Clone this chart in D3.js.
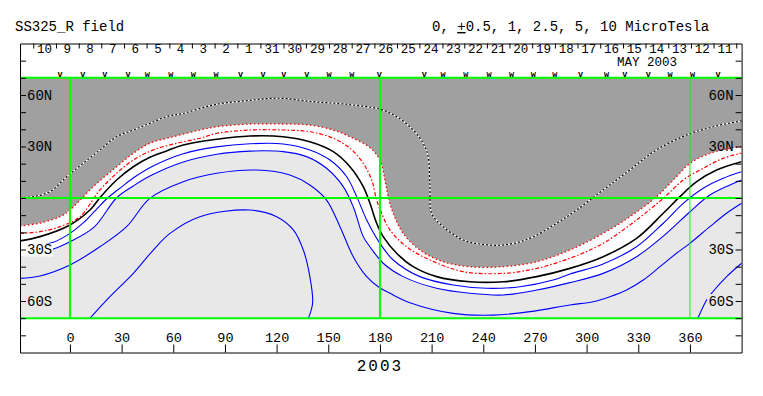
<!DOCTYPE html>
<html>
<head>
<meta charset="utf-8">
<script src="https://cdn.jsdelivr.net/npm/d3@7"></script>
<style>
  body { margin: 0; background: #fff; }
  svg { display: block; }
  text { font-family: "Liberation Mono", "DejaVu Sans Mono", monospace; fill: #000; }
</style>
</head>
<body>
<svg id="chart"></svg>
<script>
// ---- data: contour lines as [Carrington lon, lat] ----
const pos25 = [[-29,0.2],[-21.3,0.8],[-11.6,3.7],[-1.9,12.4],[7.7,20.2],[17.4,28],[27.1,35.7],[36.8,39.6],[46.5,43.5],[56.1,47.4],[65.8,49.3],[83.2,54.2],[102.6,56.7],[121.9,58.1],[141.3,56.1],[160.7,54.6],[180,51.7],[189.7,47.4],[199.3,39.6],[205.1,31.9],[208,24.1],[209,6.6],[210,-8.9],[216.7,-16.7],[228.3,-24.5],[238,-26.8],[251.6,-27.4],[267.1,-23.5],[282.6,-14.7],[294.2,-7],[309.6,4.7],[325.1,16.3],[340.6,28],[358.1,36.7],[373.5,41.5],[387.1,44.4],[390,44.9]];
const pos1 = [[-29,-16.3],[-17.4,-14.6],[-5.8,-10.9],[0,-7],[13.5,6.6],[27.1,18.2],[36.8,26],[46.4,31.9],[60,35.7],[75.5,39.6],[85.2,41.5],[104.5,43.1],[123.8,43.1],[139.3,42.5],[152.9,39.6],[162.6,35.7],[174,29.5],[180,22.1],[182.9,10.5],[184.8,0.8],[187.7,-8.9],[193.5,-20.6],[203.2,-30.3],[216.7,-37.1],[232.2,-40],[251.6,-40],[271,-37.1],[290.3,-30.3],[309.6,-20.6],[325.1,-10.9],[340.6,0.8],[352.2,12.4],[360,20.2],[371.6,26],[383.2,29],[390,29.9]];
const pos05 = [[-29,-20.6],[-17.4,-19.6],[-5.8,-16.7],[5.8,-10.9],[17.4,4.7],[27.1,14.4],[36.8,22.1],[48.4,28],[62,31.9],[75.5,34.8],[85.2,37.7],[104.5,39.6],[123.8,39.6],[139.3,38.6],[152.9,34.8],[162.6,29],[170.3,20.2],[175.2,10.5],[178.1,-1.2],[181,-8.9],[185.8,-18.6],[195.5,-28.4],[209,-36.1],[228.4,-42.9],[251.6,-43.9],[271,-41],[290.3,-35.1],[309.6,-26.4],[329,-12.8],[344.5,-0.2],[356.1,10.5],[367.7,17.3],[379.3,23.1],[390,26.2]];
const zero = [[-29,-25],[-17.4,-22.5],[0,-15.7],[11.6,-7],[17.4,0.2],[27.1,10.5],[36.8,18.2],[46.4,23.7],[56.1,27.4],[65.8,30.9],[85.2,34.2],[104.5,36.1],[123.8,35.7],[139.3,32.8],[152.9,27],[162.6,18.2],[170.3,6.6],[174.2,-3.1],[178.1,-14.7],[181.9,-22.5],[189.7,-32.2],[199.3,-40],[212.9,-45.8],[232.2,-48.8],[251.6,-48.8],[271,-45.8],[290.3,-41],[309.6,-34.2],[329,-23.5],[344.5,-8.9],[354.2,0.8],[363.9,9.5],[375.5,16.3],[390,21.1]];
const neg05 = [[-29,-29.7],[-9.7,-25.8],[0,-20.6],[7.7,-14.5],[15,-7],[21.9,0],[30,6.5],[38,12.5],[48,18.5],[65.8,25.8],[85.2,29.8],[104.5,31.6],[123.8,31.5],[139.3,28],[151,22.1],[160.7,12.4],[166.5,0.8],[172.3,-12.8],[180,-26.4],[187.7,-36.1],[203.2,-45.8],[222.5,-50.7],[241.9,-52.6],[261.3,-51.7],[280.6,-47.8],[290.3,-44.3],[309.6,-38.4],[329,-28.4],[344.5,-14.7],[356.1,-3.1],[367.7,5.7],[379.3,11.5],[390,15.3]];
const neg1 = [[-29,-33.8],[-9.7,-29.7],[0,-25.5],[14,-17],[27,0],[36.8,7],[46.4,12.8],[65.8,21],[85.2,25.5],[104.5,27.3],[123.8,27],[137.4,24.1],[149,17.3],[158.7,6.6],[164.5,-5.1],[170.3,-22.5],[174.2,-28.4],[181.9,-38],[193.5,-45.8],[212.9,-52.6],[232.2,-55.5],[251.6,-56.5],[271,-53.6],[290.3,-49.3],[309.6,-43.9],[329,-34.2],[346.4,-20.6],[360,-8],[371.6,1.7],[383.2,7.6],[390,10.5]];
const neg25 = [[-29,-46.8],[-17.4,-45.4],[0,-39],[17.4,-28.4],[32.9,-16.7],[46.4,-0.2],[65.8,9.5],[85.2,14.4],[108.4,16.3],[127.7,13.4],[139.3,7.6],[149,-1.2],[156.8,-16.7],[164.5,-34.2],[172.3,-45.8],[180,-52.4],[185.8,-55.5],[197.4,-61],[222.5,-67.2],[245.8,-68.2],[267.1,-66.2],[290.3,-62.3],[303.8,-60.4],[313.5,-57.5],[323.2,-53.6],[332.9,-47.8],[342.6,-40],[352.2,-32.2],[360,-26.4],[371.6,-16.7],[381.3,-8.9],[390,-3.1]];
const neg5a = [[11.6,-70.1],[23.2,-57.5],[36.8,-43.9],[48.4,-30.3],[58.1,-20.6],[75.5,-10.9],[104.5,-7],[120,-10.9],[129.7,-18.6],[135.5,-30.3],[139.3,-45.8],[140.9,-61.3],[138.4,-70.1]];
const neg5b = [[364.6,-70.1],[369.7,-59.4],[373.3,-54.6],[381.3,-45.8],[390,-38]];

// header: day boundaries (lon), day numbers, daily markers
const dayEdges = [-21.3,-8.1,5.1,18.2,31.4,44.5,57.7,70.8,84,97.2,110.6,124,137,150.4,163.6,176.8,189.9,202.9,216.3,229,242.1,255.2,268.4,281.6,294.7,307.9,321.1,334.2,347.4,360.6,373.7,386.9];
const dayLabels = [10,9,8,7,6,5,4,3,2,1,31,30,29,28,27,26,25,24,23,22,21,20,19,18,17,16,15,14,13,12,11];
const markerLon = [-5.8,7.4,20.3,33.8,44.9,58.5,71.6,84.8,99.1,112.2,124.2,137.6,150.5,163.7,179.7,205.8,216.7,229.9,243.4,256.4,269,281.6,296.5,311.6,322.2,335.8,348.4,361.5,376.4];
const markerType = "vvvvwwwwvvvvwwvvwwwwwwvwvvwwv".split('');

// axes
const lonTicks = [0,30,60,90,120,150,180,210,240,270,300,330,360];
const latTicks = [-80,-70,-60,-50,-40,-30,-20,-10,0,10,20,30,40,50,60,70,80];
const latLabelVals = [60,30,-30,-60];
const latLabelText = ['60N','30N','30S','60S'];
const gridLon = [0,180,360];
const gridLat = [70,0,-70];

const width = 763, height = 396;
const svg = d3.select('#chart').attr('width', width).attr('height', height);

const x = d3.scaleLinear().domain([-29, 390]).range([20, 741.6]);
const y = d3.scaleLinear().domain([-90, 90]).range([352.5, 43.5]);

svg.append('defs').append('clipPath').attr('id', 'plot')
  .append('rect')
  .attr('x', x(-29)).attr('y', y(70))
  .attr('width', x(390) - x(-29)).attr('height', y(-70) - y(70));

const plot = svg.append('g').attr('clip-path', 'url(#plot)');
const curve = d3.curveCatmullRom.alpha(0.5);

// shaded regions: > +1 gray, < -1 light gray
plot.append('path')
  .attr('d', d3.area().x(d => x(d[0])).y0(y(71)).y1(d => y(d[1])).curve(curve)(pos1))
  .attr('fill', '#a0a0a0');
plot.append('path')
  .attr('d', d3.area().x(d => x(d[0])).y0(y(-71)).y1(d => y(d[1])).curve(curve)(neg1))
  .attr('fill', '#e8e8e8');

const line = d3.line().x(d => x(d[0])).y(d => y(d[1])).curve(curve);

// positive contours
plot.append('path').attr('d', line(pos25)).attr('fill', 'none')
  .attr('stroke', '#fff').attr('stroke-width', 1.2);
plot.append('path').attr('d', line(pos25)).attr('fill', 'none')
  .attr('stroke', '#000').attr('stroke-width', 1.2).attr('stroke-dasharray', '2,2');
plot.append('path').attr('d', line(pos1)).attr('fill', 'none')
  .attr('stroke', '#f00').attr('stroke-width', 1.3).attr('stroke-dasharray', '1.5,2.5');
plot.append('path').attr('d', line(pos05)).attr('fill', 'none')
  .attr('stroke', '#f00').attr('stroke-width', 1.2).attr('stroke-dasharray', '4,2,1.5,2');

// neutral line
plot.append('path').attr('d', line(zero)).attr('fill', 'none')
  .attr('stroke', '#000').attr('stroke-width', 1.6);

// negative contours
[neg05, neg1, neg25, neg5a, neg5b].forEach(c => {
  plot.append('path').attr('d', line(c)).attr('fill', 'none')
    .attr('stroke', '#00f').attr('stroke-width', 1.1);
});

// label erase boxes
svg.append('rect').attr('x', 20).attr('y', y(-30) - 6).attr('width', 33).attr('height', 13).attr('fill', '#fff');
svg.append('rect').attr('x', 707).attr('y', y(-60) - 7).attr('width', 28).attr('height', 14).attr('fill', '#e8e8e8');

// green reference grid
const grid = svg.append('g').attr('stroke', '#00ff00');
grid.selectAll('line.h').data(gridLat).join('line').attr('class', 'h')
  .attr('x1', x(-29)).attr('x2', x(390))
  .attr('y1', d => y(d)).attr('y2', d => y(d))
  .attr('stroke-width', 2);
grid.selectAll('line.v').data(gridLon).join('line').attr('class', 'v')
  .attr('x1', d => x(d)).attr('x2', d => x(d))
  .attr('y1', y(70)).attr('y2', y(-70))
  .attr('stroke-width', d => d === 360 ? 1 : 2);

// axes
const styleAxis = g => {
  g.attr('font-family', '"Liberation Mono", "DejaVu Sans Mono", monospace')
    .attr('font-size', 14);
  g.selectAll('path, line').attr('stroke', '#000');
  g.selectAll('text').attr('fill', '#000');
};

svg.append('g')
  .attr('transform', `translate(0,${y(-90)})`)
  .call(d3.axisTop(x).tickValues(lonTicks).tickSize(8).tickSizeOuter(0).tickPadding(3))
  .call(styleAxis)
  .attr('font-size', 13.5);

const latFmt = d => {
  const i = latLabelVals.indexOf(d);
  return i < 0 ? '' : latLabelText[i];
};
svg.append('g')
  .attr('transform', `translate(${x(-29)},0)`)
  .call(d3.axisRight(y).tickValues(latTicks).tickSize(6).tickSizeOuter(0).tickPadding(1).tickFormat(latFmt))
  .call(styleAxis);
svg.append('g')
  .attr('transform', `translate(${x(390)},0)`)
  .call(d3.axisLeft(y).tickValues(latTicks).tickSize(6).tickSizeOuter(0).tickPadding(2).tickFormat(latFmt))
  .call(styleAxis);

// top frame with day separators
svg.append('g')
  .attr('transform', `translate(0,${y(90)})`)
  .call(d3.axisBottom(x).tickValues(dayEdges).tickSize(5).tickSizeOuter(0).tickFormat(''))
  .call(styleAxis);

svg.append('g').selectAll('text')
  .data(dayLabels)
  .join('text')
  .attr('x', (d, i) => x((dayEdges[i] + dayEdges[i + 1]) / 2))
  .attr('y', 52.5)
  .attr('text-anchor', 'middle')
  .attr('font-size', 12.5)
  .text(d => d);

svg.append('g').selectAll('text')
  .data(markerLon)
  .join('text')
  .attr('x', d => x(d))
  .attr('y', 76.5)
  .attr('text-anchor', 'middle')
  .attr('font-size', 8.5)
  .attr('font-weight', 'bold')
  .text((d, i) => markerType[i]);

svg.append('text').attr('x', 647).attr('y', 66).attr('text-anchor', 'middle')
  .attr('font-size', 12.5).text('MAY 2003');

// titles
svg.append('text').attr('x', 15).attr('y', 31).attr('font-size', 14).text('SS325_R field');
const lev = svg.append('text').attr('x', 432).attr('y', 31).attr('font-size', 14);
lev.append('tspan').text('0, ');
lev.append('tspan').attr('text-decoration', 'underline').text('+');
lev.append('tspan').text('0.5, 1, 2.5, 5, 10 MicroTesla');

svg.append('text').attr('x', x(180)).attr('y', 371).attr('text-anchor', 'middle')
  .attr('font-size', 16).attr('letter-spacing', 2).text('2003');
</script>
</body>
</html>
